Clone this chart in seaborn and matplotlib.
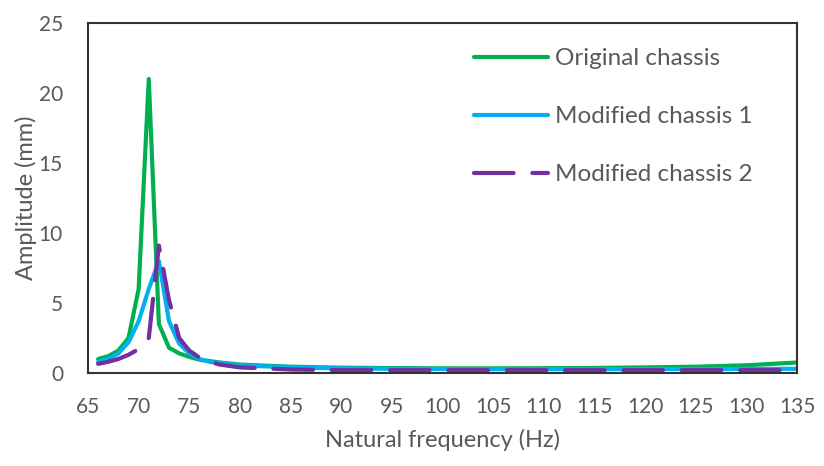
import pandas as pd
import matplotlib
matplotlib.use("Agg")
import matplotlib.pyplot as plt
import seaborn as sns

# values
freq = [66, 67, 68, 69, 70, 71, 72, 73, 74, 75, 76, 77, 78, 80,
        85, 90, 95, 100, 105, 110, 115, 120, 125, 130, 135]
original = [1.0, 1.2, 1.6, 2.5, 6.0, 21.0, 3.5, 1.8, 1.4, 1.15, 0.95, 0.85, 0.75, 0.6,
            0.45, 0.38, 0.35, 0.33, 0.33, 0.34, 0.36, 0.4, 0.45, 0.55, 0.75]
modified1 = [0.8, 1.0, 1.4, 2.2, 3.7, 6.0, 8.0, 3.7, 2.1, 1.4, 1.0, 0.8, 0.7, 0.55,
             0.4, 0.33, 0.3, 0.28, 0.27, 0.27, 0.27, 0.28, 0.28, 0.29, 0.3]
modified2 = [0.65, 0.8, 1.0, 1.3, 1.7, 2.5, 9.1, 5.2, 2.5, 1.6, 1.1, 0.8, 0.6, 0.4,
             0.25, 0.2, 0.2, 0.2, 0.2, 0.2, 0.2, 0.2, 0.2, 0.2, 0.2]
series = ["Original chassis", "Modified chassis 1", "Modified chassis 2"]
colors = ["#00B050", "#00B0F0", "#7030A0"]

df = pd.DataFrame({
    "freq": freq * 3,
    "amp": original + modified1 + modified2,
    "series": [series[0]] * len(freq) + [series[1]] * len(freq) + [series[2]] * len(freq),
})

sns.set_style("white")
plt.rcParams["font.family"] = ["Lato", "DejaVu Sans"]
grey = "#595959"

fig = plt.figure(figsize=(8.24, 4.66), dpi=100)
ax = fig.add_axes([0.1068, 0.1996, 0.8604, 0.751])

sns.lineplot(data=df, x="freq", y="amp", hue="series", style="series",
             hue_order=series, style_order=series,
             palette=dict(zip(series, colors)),
             dashes={series[0]: "", series[1]: "", series[2]: (9.5, 4.5)},
             linewidth=3, ax=ax, sort=False)
for ln in ax.get_lines():
    ln.set_dash_capstyle("round")
    ln.set_solid_capstyle("round")

ax.set_xlim(65, 135)
ax.set_ylim(0, 25)
ax.set_xticks(range(65, 136, 5))
ax.set_yticks(range(0, 26, 5))
ax.tick_params(direction="in", length=5, width=1.2, colors="#333333",
               labelcolor=grey, labelsize=15)
ax.tick_params(axis="x", pad=17)
ax.tick_params(axis="y", pad=18)
for s in ax.spines.values():
    s.set_visible(True)
    s.set_color("#333333")
    s.set_linewidth(1.5)

ax.set_xlabel("Natural frequency (Hz)", fontsize=17, color=grey, labelpad=9)
ax.set_ylabel("Amplitude (mm)", fontsize=17, color=grey, labelpad=1)

leg = ax.legend(loc="upper left", bbox_to_anchor=(0.514, 0.99), frameon=False,
                fontsize=17.5, handlelength=3.05, handletextpad=0.29,
                labelspacing=1.52)
for t in leg.get_texts():
    t.set_color(grey)
for h in leg.get_lines():
    h.set_linewidth(3)
    h.set_dash_capstyle("round")
    h.set_solid_capstyle("round")

fig.savefig("out.png", dpi=100)
